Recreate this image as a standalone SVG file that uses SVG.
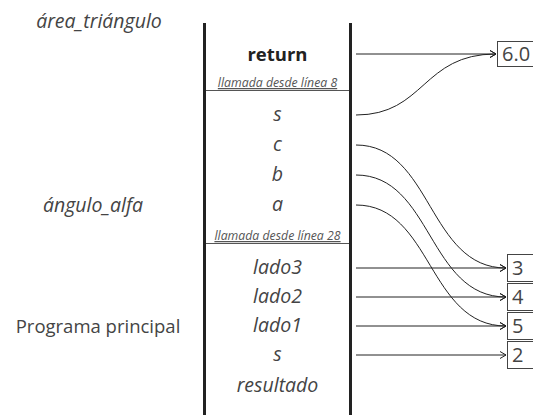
<svg xmlns="http://www.w3.org/2000/svg" width="533" height="415" viewBox="0 0 533 415">
<defs>
<style>
text{font-family:"Open Sans","DejaVu Sans",sans-serif;fill:#444;font-size:19.5px;text-anchor:middle}
.it{font-style:italic}
.b{font-weight:bold;fill:#222;font-size:18.5px}
.sm{font-size:12.3px;font-style:italic;fill:#555;text-decoration:underline}
.bar{stroke:#222;stroke-width:3}
.sep{stroke:#555;stroke-width:1}
.c{fill:none;stroke:#222;stroke-width:1;marker-end:url(#ah)}
.box{fill:#fff;stroke:#444;stroke-width:1}
.v{text-anchor:start;font-size:20px}
</style>
<marker id="ah" markerWidth="8" markerHeight="8" refX="7" refY="4" orient="auto" markerUnits="userSpaceOnUse">
<path d="M1,0.5 L7,4 L1,7.5" fill="none" stroke="#222" stroke-width="1"/>
</marker>
</defs>
<g id="frames">
<text x="99" y="28" class="it">área_triángulo</text>
<text x="93" y="212" class="it">ángulo_alfa</text>
<text x="98" y="333" style="font-size:18.5px">Programa principal</text>
</g>
<g id="stack">
<line class="bar" x1="204.5" y1="23" x2="204.5" y2="415"/>
<line class="bar" x1="350.5" y1="23" x2="350.5" y2="415"/>
<line class="sep" x1="206" y1="90.5" x2="349" y2="90.5"/>
<line class="sep" x1="206" y1="243.5" x2="349" y2="243.5"/>
<text x="277.5" y="61" class="b">return</text>
<text x="277.5" y="87" class="sm">llamada desde línea 8</text>
<text x="277.5" y="121" class="it">s</text>
<text x="277.5" y="151" class="it">c</text>
<text x="277.5" y="181" class="it">b</text>
<text x="277.5" y="211" class="it">a</text>
<text x="277.5" y="240" class="sm">llamada desde línea 28</text>
<text x="277.5" y="274" class="it">lado3</text>
<text x="277.5" y="303" class="it">lado2</text>
<text x="277.5" y="332" class="it">lado1</text>
<text x="277.5" y="361" class="it">s</text>
<text x="277.5" y="392" class="it">resultado</text>
</g>
<g id="val60">
<rect class="box" x="497.5" y="41.5" width="60" height="25"/>
<text x="502" y="61" class="v">6.0</text>
</g>
<g id="val3">
<rect class="box" x="507.5" y="254.5" width="60" height="27"/>
<text x="512" y="275" class="v">3</text>
</g>
<g id="val4">
<rect class="box" x="507.5" y="283.5" width="60" height="27"/>
<text x="512" y="304" class="v">4</text>
</g>
<g id="val5">
<rect class="box" x="507.5" y="312.5" width="60" height="27"/>
<text x="512" y="333" class="v">5</text>
</g>
<g id="val2">
<rect class="box" x="507.5" y="341.5" width="60" height="27"/>
<text x="512" y="362" class="v">2</text>
</g>
<g id="connectors">
<path class="c" d="M356,54 L496,54"/>
<path class="c" d="M356,115 C425,115 422,54 496,54"/>
<path class="c" d="M356,145 C432,145 428,268 506,268"/>
<path class="c" d="M356,175 C432,175 428,297 506,297"/>
<path class="c" d="M356,205 C432,205 428,326 506,326"/>
<path class="c" d="M356,268 L506,268"/>
<path class="c" d="M356,297 L506,297"/>
<path class="c" d="M356,326 L506,326"/>
<path class="c" d="M356,355 L506,355"/>
</g>
</svg>
